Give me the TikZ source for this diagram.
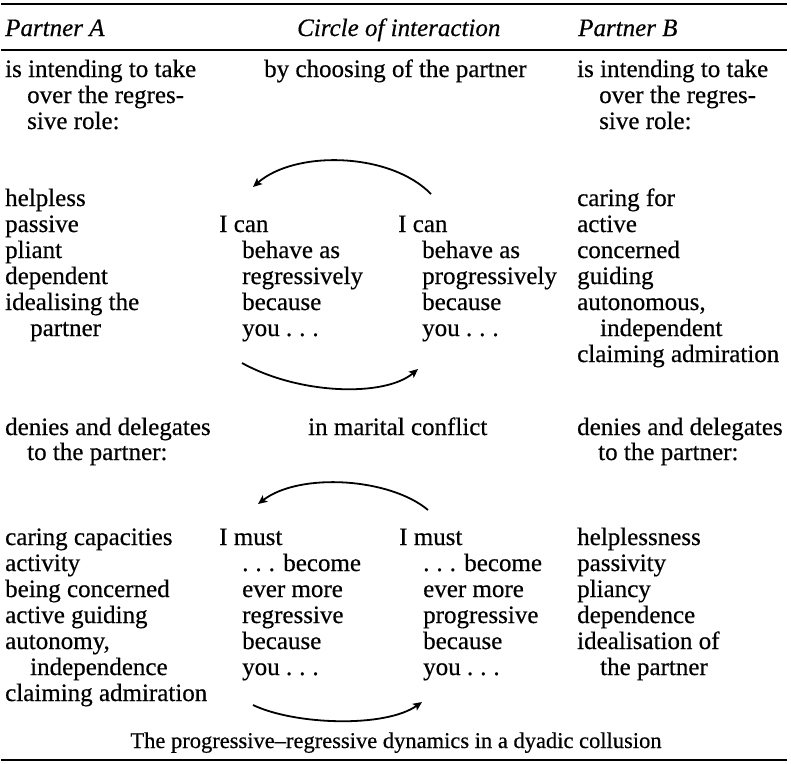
\documentclass[tikz,border=0pt]{standalone}
\usepackage{fontspec}
\setmainfont[FakeBold=0.45]{Liberation Serif}
\usetikzlibrary{arrows.meta}
\newcommand\mytxt[4]{\node[txt] (#1) at (#2,#3) {#4};}
\newcommand\dts{.\hspace{0.28em}.\hspace{0.28em}.}
\begin{document}
\begin{tikzpicture}[x=1pt,y=-1pt,
  txt/.style={anchor=base west,inner sep=0pt,font=\fontsize{25}{26}\selectfont},
  hdr/.style={txt,font=\fontsize{25}{26}\selectfont\itshape},
  arr/.style={line width=1.8pt,-{Stealth[length=9pt,width=8pt,inset=2pt]}},
  rule/.style={line width=#1}]
\useasboundingbox (0,0) rectangle (791,763);
% rules
\draw[rule=2.6pt] (1,4) -- (787,4);
\draw[rule=1.6pt] (1,50) -- (787,50);
\draw[rule=1.6pt] (1,760) -- (787,760);
% header
\node[hdr] (hA) at (5,36) {Partner A};
\node[hdr] (hC) at (297,36) {Circle of interaction};
\node[hdr] (hB) at (578,36) {Partner B};
% row 1
\mytxt{a1}{5}{77}{is intending to take}
\mytxt{a2}{27}{103}{over the regres-}
\mytxt{a3}{27}{129}{sive role:}
\mytxt{c1}{264}{77}{by choosing of the partner}
\mytxt{b1}{577}{77}{is intending to take}
\mytxt{b2}{599}{103}{over the regres-}
\mytxt{b3}{599}{129}{sive role:}
% block 2 left
\mytxt{l1}{5}{206}{helpless}
\mytxt{l2}{5}{232}{passive}
\mytxt{l3}{5}{258}{pliant}
\mytxt{l4}{5}{284}{dependent}
\mytxt{l5}{5}{310}{idealising the}
\mytxt{l6}{30}{336}{partner}
% center left
\mytxt{m1}{219}{232}{I can}
\mytxt{m2}{242}{258}{behave as}
\mytxt{m3}{242}{284}{regressively}
\mytxt{m4}{242}{310}{because}
\mytxt{m5}{242}{336}{you \dts}
% center right
\mytxt{n1}{398}{232}{I can}
\mytxt{n2}{422}{258}{behave as}
\mytxt{n3}{422}{284}{progressively}
\mytxt{n4}{422}{310}{because}
\mytxt{n5}{422}{336}{you \dts}
% right
\mytxt{r1}{577}{206}{caring for}
\mytxt{r2}{577}{232}{active}
\mytxt{r3}{577}{258}{concerned}
\mytxt{r4}{577}{284}{guiding}
\mytxt{r5}{577}{310}{autonomous,}
\mytxt{r6}{600}{336}{independent}
\mytxt{r7}{577}{362}{claiming admiration}
% arrows upper
\coordinate (u1s) at (431,194);
\coordinate (u1e) at (253,187);
\draw[arr] (u1s) .. controls (390,152) and (295,150) .. (u1e);
\coordinate (u2s) at (242,363);
\coordinate (u2e) at (418,369);
\draw[arr] (u2s) .. controls (300,395) and (385,397) .. (u2e);
% row denies
\mytxt{d1}{5}{435}{denies and delegates}
\mytxt{d2}{27}{460}{to the partner:}
\mytxt{dc}{308}{435}{in marital conflict}
\mytxt{e1}{577}{435}{denies and delegates}
\mytxt{e2}{598}{460}{to the partner:}
% bottom block left
\mytxt{p1}{5}{545}{caring capacities}
\mytxt{p2}{5}{571}{activity}
\mytxt{p3}{5}{597}{being concerned}
\mytxt{p4}{5}{623}{active guiding}
\mytxt{p5}{5}{649}{autonomy,}
\mytxt{p6}{30}{675}{independence}
\mytxt{p7}{5}{701}{claiming admiration}
% center left
\mytxt{q1}{219}{545}{I must}
\mytxt{q2}{242}{571}{\dts{} become}
\mytxt{q3}{242}{597}{ever more}
\mytxt{q4}{242}{623}{regressive}
\mytxt{q5}{242}{649}{because}
\mytxt{q6}{242}{675}{you \dts}
% center right
\mytxt{s1}{399}{545}{I must}
\mytxt{s2}{423}{571}{\dts{} become}
\mytxt{s3}{423}{597}{ever more}
\mytxt{s4}{423}{623}{progressive}
\mytxt{s5}{423}{649}{because}
\mytxt{s6}{423}{675}{you \dts}
% right
\mytxt{t1}{577}{545}{helplessness}
\mytxt{t2}{577}{571}{passivity}
\mytxt{t3}{577}{597}{pliancy}
\mytxt{t4}{577}{623}{dependence}
\mytxt{t5}{577}{649}{idealisation of}
\mytxt{t6}{600}{675}{the partner}
% arrows lower
\coordinate (w1s) at (428,510);
\coordinate (w1e) at (258,504);
\draw[arr] (w1s) .. controls (390,478) and (300,472) .. (w1e);
\coordinate (w2s) at (253,705);
\coordinate (w2e) at (422,702);
\draw[arr] (w2s) .. controls (295,725) and (385,728) .. (w2e);
% caption
\node[anchor=base,inner sep=0pt,font=\fontsize{22.5}{24}\selectfont] (cap) at (396,748) {The progressive--regressive dynamics in a dyadic collusion};
\end{tikzpicture}
\end{document}
